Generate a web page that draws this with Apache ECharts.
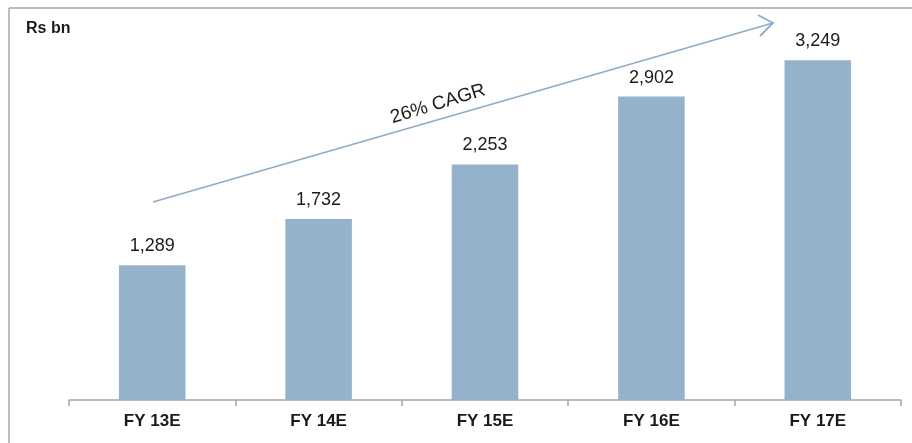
<!DOCTYPE html>
<html>
<head>
<meta charset="utf-8">
<script src="https://cdn.jsdelivr.net/npm/echarts@6/dist/echarts.min.js"></script>
<style>
  html, body { margin: 0; padding: 0; background: #fff; }
  #chart { width: 912px; height: 443px; }
</style>
</head>
<body>
<div id="chart"></div>
<script>
// 数据
const categories = ['FY 13E', 'FY 14E', 'FY 15E', 'FY 16E', 'FY 17E'];
const revenue = [1289, 1732, 2253, 2902, 3249];

const chart = echarts.init(document.getElementById('chart'));

const option = {
  animation: false,
  grid: {
    left: 69,
    right: 11,
    top: 34,
    bottom: 43
  },
  xAxis: {
    type: 'category',
    data: categories,
    axisLine: { lineStyle: { color: '#a6a6a6', width: 1.5 } },
    axisTick: { show: true, length: 6, lineStyle: { color: '#a6a6a6', width: 1.5 } },
    axisLabel: {
      color: '#1a1a1a',
      fontFamily: 'Liberation Sans',
      fontWeight: 'bold',
      fontSize: 17,
      margin: 13
    }
  },
  yAxis: {
    type: 'value',
    min: 0,
    max: 3500,
    show: false,
    splitLine: { show: false }
  },
  series: [
    {
      name: 'Rs bn',
      type: 'bar',
      barWidth: '40%',
      data: revenue,
      itemStyle: { color: '#95b2cc' },
      label: {
        show: true,
        position: 'top',
        distance: 10,
        color: '#1a1a1a',
        fontFamily: 'Liberation Sans',
        fontSize: 18,
        formatter: p => p.value.toLocaleString('en-US')
      }
    }
  ],
  graphic: [
    // 外框
    { type: 'line', shape: { x1: 9, y1: 8, x2: 912, y2: 8 }, style: { stroke: '#bdbdbd', lineWidth: 2 } },
    { type: 'line', shape: { x1: 9, y1: 8, x2: 9, y2: 443 }, style: { stroke: '#bdbdbd', lineWidth: 2 } },
    {
      type: 'text', left: 26, top: 21,
      style: { text: 'Rs bn', font: 'bold 16px "Liberation Sans"', fill: '#1a1a1a' }
    },
    // CAGR 箭头
    { type: 'line', shape: { x1: 153, y1: 202, x2: 773, y2: 23 }, style: { stroke: '#8faccb', lineWidth: 1.8 } },
    { type: 'polyline', shape: { points: [[758, 15], [773, 23], [760, 36]] }, style: { stroke: '#8faccb', lineWidth: 1.8, fill: null } },
    {
      type: 'text', x: 438, y: 104, rotation: 17 * Math.PI / 180,
      style: {
        text: '26% CAGR', font: '19px "Liberation Sans"', fill: '#1a1a1a',
        align: 'center', verticalAlign: 'middle'
      }
    }
  ]
};

chart.setOption(option);
</script>
</body>
</html>
